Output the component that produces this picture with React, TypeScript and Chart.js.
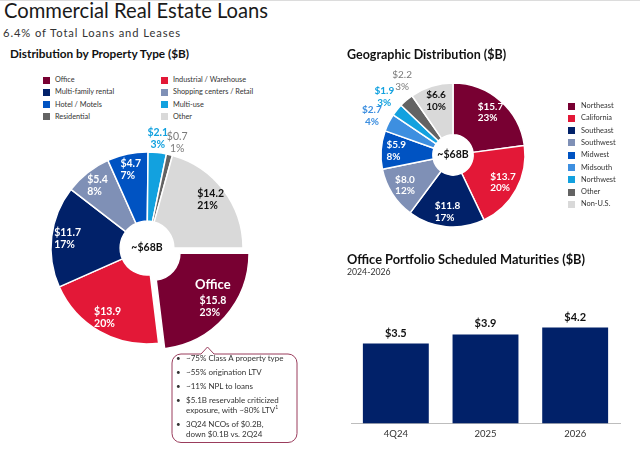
import React, { useEffect, useRef } from 'react';
import { Chart, registerables } from 'chart.js';

Chart.register(...registerables);

const FONT = 'Lato, "Open Sans", "DejaVu Sans", sans-serif';
Chart.defaults.font.family = FONT;

// ---------- Distribution by Property Type ----------
const propertyTypes = ['Office', 'Industrial / Warehouse', 'Multi-family rental', 'Shopping centers / Retail', 'Hotel / Motels', 'Multi-use', 'Residential', 'Other'];
const propertyValues = [15.8, 13.9, 11.7, 5.4, 4.7, 2.1, 0.7, 14.2];
const propertyPercents = ['23%', '20%', '17%', '8%', '7%', '3%', '1%', '21%'];
const propertyColors = ['#780032', '#e31837', '#012169', '#7f90b6', '#0053c2', '#12a1df', '#636363', '#d9d9d9'];
const propertyLabelColors = ['#ffffff', '#ffffff', '#ffffff', '#ffffff', '#ffffff', '#12a1df', '#7a7a7a', '#111111'];
const propertyLabelOutside = [false, false, false, false, false, true, true, false];
const propertyLabelBold = [true, true, true, true, true, true, false, true];
const propertyLabelAngleShift = [0, 0, 0, 0, 0, -0.5, 2.5, 0];
const propertyHeadlines = ['Office', '', '', '', '', '', '', ''];
const propertyOffsets = [32, 0, 0, 0, 0, 0, 0, 0];

// ---------- Geographic Distribution ----------
const regions = ['Northeast', 'California', 'Southeast', 'Southwest', 'Midwest', 'Midsouth', 'Northwest', 'Other', 'Non-U.S.'];
const regionValues = [15.7, 13.7, 11.8, 8.0, 5.9, 2.7, 1.9, 2.2, 6.6];
const regionPercents = ['23%', '20%', '17%', '12%', '8%', '4%', '3%', '3%', '10%'];
const regionColors = ['#780032', '#e31837', '#012169', '#7f90b6', '#0053c2', '#3d8fe0', '#12a1df', '#636363', '#d9d9d9'];
const regionLabelColors = ['#ffffff', '#ffffff', '#ffffff', '#ffffff', '#ffffff', '#3d8fe0', '#12a1df', '#7a7a7a', '#111111'];
const regionLabelOutside = [false, false, false, false, false, true, true, true, false];
const regionLabelBold = [true, true, true, true, true, true, true, false, true];
const regionLabelAngleShift = [0, 0, 0, 0, 0, -1, 1.5, 6, 0];

const totalLabel = '~$68B';

// ---------- Office Portfolio Scheduled Maturities ----------
const maturityPeriods = ['4Q24', '2025', '2026'];
const maturityValues = [3.5, 3.9, 4.2];

// ---------- Office callout notes ----------
const officeNotes: string[][] = [
  ['~75% Class A property type'],
  ['~55% origination LTV'],
  ['~11% NPL to loans'],
  ['$5.1B reservable criticized', 'exposure, with ~80% LTV'],
  ['3Q24 NCOs of $0.2B,', 'down $0.1B vs. 2Q24'],
];
const officeNoteFootnote = [false, false, false, true, false];

const sliceLabelPlugin = {
  id: 'sliceLabels',
  afterDatasetsDraw(chart: any, _args: any, opts: any) {
    const ctx = chart.ctx;
    const meta = chart.getDatasetMeta(0);
    const ds = chart.data.datasets[0];
    ctx.save();
    meta.data.forEach((arc: any, i: number) => {
      const p = arc.getProps(['x', 'y', 'startAngle', 'endAngle', 'outerRadius'], true);
      const shiftDeg = opts.angleShift ? opts.angleShift[i] : 0;
      const mid = (p.startAngle + p.endAngle) / 2 + (shiftDeg * Math.PI) / 180;
      const outside = opts.outside[i];
      const shift = (Array.isArray(ds.offset) ? ds.offset[i] : 0) / 4;
      const r = p.outerRadius * (outside ? opts.outsideFactor : opts.insideFactor) + shift;
      const cx = p.x + Math.cos(mid) * r;
      const cy = p.y + Math.sin(mid) * r;
      const lines = ['$' + Number(ds.data[i]).toFixed(1), opts.percents[i]];
      ctx.font = `${opts.bold[i] ? 'bold ' : ''}${opts.fontSize}px ${FONT}`;
      ctx.fillStyle = opts.colors[i];
      ctx.textBaseline = 'middle';
      const lh = opts.lineHeight;
      if (outside) {
        ctx.textAlign = 'center';
        lines.forEach((t: string, k: number) => ctx.fillText(t, cx, cy + (k - 0.5) * lh));
      } else {
        const w = Math.max(...lines.map((t: string) => ctx.measureText(t).width));
        ctx.textAlign = 'left';
        lines.forEach((t: string, k: number) => ctx.fillText(t, cx - w / 2, cy + (k - 0.5) * lh));
      }
      const head = opts.headlines ? opts.headlines[i] : '';
      if (head) {
        ctx.font = `bold ${opts.headlineSize}px ${FONT}`;
        ctx.textAlign = 'center';
        ctx.fillText(head, cx, cy - lh / 2 - opts.headlineGap);
      }
    });
    const a = meta.data[meta.data.length - 1];
    ctx.font = `bold ${opts.centerSize}px ${FONT}`;
    ctx.fillStyle = '#111';
    ctx.textAlign = 'center';
    ctx.textBaseline = 'middle';
    ctx.fillText(opts.centerText, a.x, a.y);
    ctx.restore();
  },
};

const barValuePlugin = {
  id: 'barValues',
  afterDatasetsDraw(chart: any) {
    const ctx = chart.ctx;
    const meta = chart.getDatasetMeta(0);
    const ds = chart.data.datasets[0];
    ctx.save();
    ctx.font = `bold 11px ${FONT}`;
    ctx.fillStyle = '#111';
    ctx.textAlign = 'center';
    ctx.textBaseline = 'alphabetic';
    meta.data.forEach((bar: any, i: number) => {
      ctx.fillText('$' + Number(ds.data[i]).toFixed(1), bar.x, bar.y - 7);
    });
    ctx.restore();
  },
};

function ChartCanvas({ make, left, top, width, height }: any) {
  const ref = useRef<HTMLCanvasElement>(null);
  useEffect(() => {
    const chart = new Chart(ref.current as HTMLCanvasElement, make());
    return () => chart.destroy();
  }, []);
  return (
    <canvas
      ref={ref}
      width={width}
      height={height}
      style={{ position: 'absolute', left, top, width, height }}
    />
  );
}

const makePropertyChart = () => ({
  type: 'doughnut',
  data: {
    labels: propertyTypes,
    datasets: [{
      data: propertyValues,
      backgroundColor: propertyColors,
      borderColor: '#ffffff',
      borderWidth: 1.5,
      offset: propertyOffsets,
    }],
  },
  options: {
    responsive: false,
    animation: false,
    rotation: 90,
    radius: 96,
    cutout: '28%',
    plugins: {
      legend: { display: false },
      tooltip: { enabled: false },
      sliceLabels: {
        percents: propertyPercents,
        colors: propertyLabelColors,
        outside: propertyLabelOutside,
        bold: propertyLabelBold,
        angleShift: propertyLabelAngleShift,
        headlines: propertyHeadlines,
        insideFactor: 0.833,
        outsideFactor: 1.14,
        fontSize: 10.5,
        lineHeight: 12,
        headlineSize: 13,
        headlineGap: 15,
        centerSize: 10.5,
        centerText: totalLabel,
      },
    },
  },
  plugins: [sliceLabelPlugin],
});

const makeRegionChart = () => ({
  type: 'doughnut',
  data: {
    labels: regions,
    datasets: [{
      data: regionValues,
      backgroundColor: regionColors,
      borderColor: '#ffffff',
      borderWidth: 1.5,
    }],
  },
  options: {
    responsive: false,
    animation: false,
    rotation: 0,
    radius: 72,
    cutout: '28%',
    plugins: {
      legend: { display: false },
      tooltip: { enabled: false },
      sliceLabels: {
        percents: regionPercents,
        colors: regionLabelColors,
        outside: regionLabelOutside,
        bold: regionLabelBold,
        angleShift: regionLabelAngleShift,
        insideFactor: 0.79,
        outsideFactor: 1.25,
        fontSize: 10,
        lineHeight: 11.5,
        centerSize: 10.5,
        centerText: totalLabel,
      },
    },
  },
  plugins: [sliceLabelPlugin],
});

const makeMaturityChart = () => ({
  type: 'bar',
  data: {
    labels: maturityPeriods,
    datasets: [{
      data: maturityValues,
      backgroundColor: '#012169',
      barPercentage: 0.735,
      categoryPercentage: 1,
    }],
  },
  options: {
    responsive: false,
    animation: false,
    layout: { padding: { left: 11, right: 10, top: 0, bottom: 0 } },
    scales: {
      x: {
        grid: { display: true, drawOnChartArea: false, drawTicks: false, color: 'rgba(0,0,0,0)' },
        border: { display: true, color: '#bdbdbd', width: 1 },
        ticks: { color: '#333', font: { size: 9.5 }, padding: 5 },
      },
      y: { display: false, min: 0, max: 5.84 },
    },
    plugins: { legend: { display: false }, tooltip: { enabled: false } },
  },
  plugins: [barValuePlugin],
});

function Legend({ items, colors, x, textX, y0, step, fontSize }: any) {
  return (
    <>
      {items.map((t: string, i: number) => (
        <div key={t + i} style={{ position: 'absolute', left: x, top: y0 + i * step - 6, height: 12, lineHeight: '12px', display: 'flex', alignItems: 'center', fontSize, color: '#333', whiteSpace: 'nowrap' }}>
          <span style={{ display: 'inline-block', width: 7, height: 7, background: colors[i], marginRight: textX - x - 7, flex: 'none' }} />
          <span>{t}</span>
        </div>
      ))}
    </>
  );
}

export default function App() {
  const leftCol1 = [0, 2, 4, 6];
  const leftCol2 = [1, 3, 5, 7];
  const r = 9;
  const bx1 = 172, by1 = 354, bx2 = 297, by2 = 442.5;
  const calloutPath = `M ${bx1 + r} ${by1} L 201 ${by1} L 207.5 347 L 214 ${by1} L ${bx2 - r} ${by1} A ${r} ${r} 0 0 1 ${bx2} ${by1 + r} L ${bx2} ${by2 - r} A ${r} ${r} 0 0 1 ${bx2 - r} ${by2} L ${bx1 + r} ${by2} A ${r} ${r} 0 0 1 ${bx1} ${by2 - r} L ${bx1} ${by1 + r} A ${r} ${r} 0 0 1 ${bx1 + r} ${by1} Z`;
  return (
    <div style={{ position: 'absolute', left: 0, top: 0, width: 640, height: 449, background: '#fff', overflow: 'hidden', fontFamily: FONT, color: '#222' }}>
      <div style={{ position: 'absolute', left: 0, top: 0, width: 640, height: 1, background: '#dcdcdc' }} />
      <div style={{ position: 'absolute', left: 4, top: -2.5, fontSize: 20.2, lineHeight: '24.2px', whiteSpace: 'nowrap', color: '#1a1a1a' }}>Commercial Real Estate Loans</div>
      <div style={{ position: 'absolute', left: 3, top: 25.5, fontSize: 11.2, lineHeight: '13.4px', letterSpacing: 0.9, whiteSpace: 'nowrap', color: '#333' }}>6.4% of Total Loans and Leases</div>
      <div style={{ position: 'absolute', left: 10, top: 46.8, fontSize: 11.8, lineHeight: '14.2px', fontWeight: 700, whiteSpace: 'nowrap', color: '#111' }}>Distribution by Property Type ($B)</div>

      <Legend items={leftCol1.map(i => propertyTypes[i])} colors={leftCol1.map(i => propertyColors[i])} x={43} textX={55} y0={80} step={12.3} fontSize={7.3} />
      <Legend items={leftCol2.map(i => propertyTypes[i])} colors={leftCol2.map(i => propertyColors[i])} x={161} textX={173} y0={80} step={12.3} fontSize={7.3} />

      <ChartCanvas make={makePropertyChart} left={17} top={118} width={260} height={260} />

      <svg width={640} height={449} style={{ position: 'absolute', left: 0, top: 0, pointerEvents: 'none' }}>
        <path d={calloutPath} fill="#ffffff" stroke="#9a3c5c" strokeWidth={1} />
      </svg>
      <div style={{ position: 'absolute', left: 176, top: 353, width: 120, fontSize: 8, lineHeight: '10px', color: '#333', display: 'flex', flexDirection: 'column', gap: 4 }}>
        {officeNotes.map((lines, i) => (
          <div key={i} style={{ display: 'flex' }}>
            <span style={{ width: 10, flex: 'none' }}>•</span>
            <div>
              {lines.map((ln, k) => (
                <div key={k} style={{ whiteSpace: 'nowrap' }}>
                  {ln}
                  {officeNoteFootnote[i] && k === lines.length - 1 ? <sup style={{ fontSize: 5, lineHeight: 0 }}>1</sup> : null}
                </div>
              ))}
            </div>
          </div>
        ))}
      </div>

      <div style={{ position: 'absolute', left: 347, top: 47.3, fontSize: 12.5, lineHeight: '15px', fontWeight: 700, whiteSpace: 'nowrap', color: '#111' }}>Geographic Distribution ($B)</div>
      <ChartCanvas make={makeRegionChart} left={343} top={45} width={220} height={220} />
      <Legend items={regions} colors={regionColors} x={568} textX={581} y0={106} step={12.3} fontSize={7.4} />

      <div style={{ position: 'absolute', left: 347, top: 251.8, fontSize: 12.8, lineHeight: '15.4px', fontWeight: 700, whiteSpace: 'nowrap', color: '#111' }}>Office Portfolio Scheduled Maturities ($B)</div>
      <div style={{ position: 'absolute', left: 347, top: 267, fontSize: 8.7, lineHeight: '10.5px', whiteSpace: 'nowrap', color: '#333' }}>2024-2026</div>
      <ChartCanvas make={makeMaturityChart} left={340} top={290} width={290} height={155} />
    </div>
  );
}
